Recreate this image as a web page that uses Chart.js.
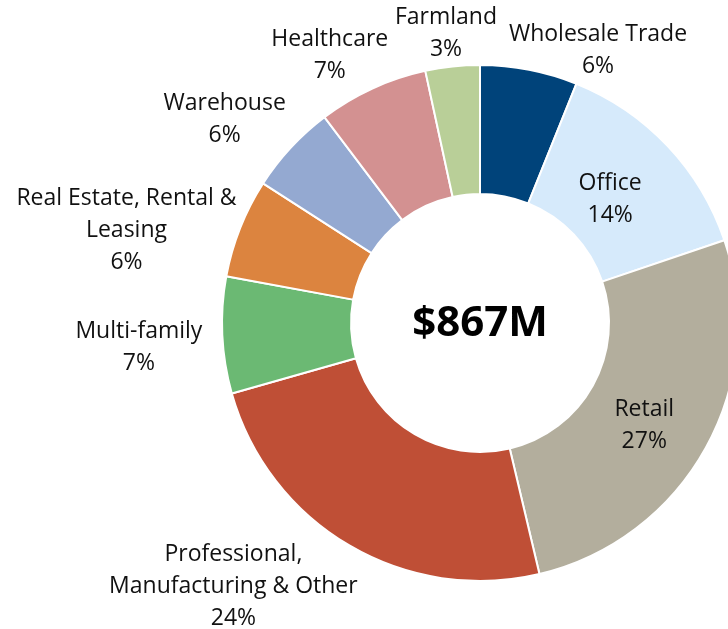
<!DOCTYPE html>
<html>
<head>
<meta charset="utf-8">
<script src="https://cdn.jsdelivr.net/npm/chart.js@4/dist/chart.umd.min.js"></script>
<style>
  html, body { margin: 0; padding: 0; background: #fff; overflow: hidden; }
  #wrap { width: 728px; height: 629px; overflow: hidden; }
</style>
</head>
<body>
<div id="wrap"><canvas id="mixChart" width="960" height="629"></canvas></div>
<script>
  // portfolio mix, clockwise from 12 o'clock
  const categories = [
    ['Wholesale Trade'],
    ['Office'],
    ['Retail'],
    ['Professional,', 'Manufacturing & Other'],
    ['Multi-family'],
    ['Real Estate, Rental &', 'Leasing'],
    ['Warehouse'],
    ['Healthcare'],
    ['Farmland']
  ];
  const shares = [6.1, 13.7, 26.5, 24.3, 7.3, 6.2, 5.6, 6.9, 3.4];
  const shareLabels = ['6%', '14%', '27%', '24%', '7%', '6%', '6%', '7%', '3%'];
  const centerLabel = '$867M';

  const colors = ['#00437A', '#D6EAFB', '#B3AE9D', '#BF4F36', '#6BB973',
                  '#DC843F', '#94A9D1', '#D39191', '#B9CF98'];

  const FONT = '"Open Sans", sans-serif';

  const sliceLabels = {
    id: 'sliceLabels',
    afterDatasetsDraw(chart, args, opts) {
      const ctx = chart.ctx;
      const meta = chart.getDatasetMeta(0);
      ctx.save();
      ctx.font = opts.size + 'px ' + FONT;
      ctx.fillStyle = '#111';
      ctx.textAlign = 'center';
      ctx.textBaseline = 'middle';
      meta.data.forEach((arc, i) => {
        const lines = categories[i].concat([shareLabels[i]]);
        const mid = (arc.startAngle + arc.endAngle) / 2;
        const dx = Math.cos(mid), dy = Math.sin(mid);
        const h = lines.length * opts.lineHeight;
        let cx, cy;
        if (opts.inside.includes(i)) {
          const r = arc.innerRadius + (arc.outerRadius - arc.innerRadius) * 0.42;
          cx = arc.x + dx * r;
          cy = arc.y + dy * r;
        } else {
          const w = Math.max(...lines.map(t => ctx.measureText(t).width));
          const r = arc.outerRadius + opts.gap;
          cx = arc.x + dx * r + dx * w / 2;
          cy = arc.y + dy * r + dy * h / 2;
        }
        // hand placement, like the original
        const nudge = opts.nudge[i] || [0, 0];
        cx += nudge[0];
        cy += nudge[1];
        lines.forEach((t, k) => {
          ctx.fillText(t, cx, cy - h / 2 + opts.lineHeight * (k + 0.5));
        });
      });
      // total in the hole
      const a = meta.data[0];
      ctx.font = 'bold 42px ' + FONT;
      ctx.fillStyle = '#000';
      ctx.fillText(centerLabel, a.x, a.y + 1);
      ctx.restore();
    }
  };

  new Chart(document.getElementById('mixChart'), {
    type: 'doughnut',
    data: {
      labels: categories.map(c => c.join(' ')),
      datasets: [{
        data: shares,
        backgroundColor: colors,
        borderColor: '#fff',
        borderWidth: 2
      }]
    },
    options: {
      responsive: false,
      animation: false,
      cutout: '50%',
      layout: { padding: { top: 64, bottom: 47, left: 0, right: 0 } },
      plugins: {
        legend: { display: false },
        tooltip: { enabled: false },
        sliceLabels: {
          size: 23,
          lineHeight: 32,
          gap: 10,
          inside: [1, 2],
          nudge: [[50, 22], [-3, 2], [4, 14], [-48, -9], [-10, 10],
                  [-2, 24], [-14, 0], [-14, 5], [0, 9]]
        }
      }
    },
    plugins: [sliceLabels]
  });
</script>
</body>
</html>
